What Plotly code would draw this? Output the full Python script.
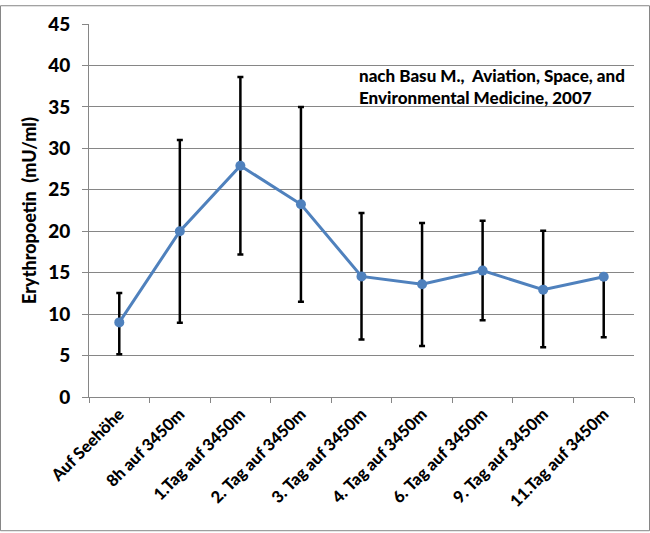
import plotly.graph_objects as go

categories = ["Auf Seehöhe", "8h auf 3450m", "1.Tag auf 3450m", "2. Tag auf 3450m",
              "3. Tag auf 3450m", "4. Tag auf 3450m", "6. Tag auf 3450m",
              "9. Tag auf 3450m", "11.Tag auf 3450m"]
values = [9.0, 20.0, 27.9, 23.25, 14.55, 13.6, 15.25, 12.95, 14.5]
err_upper = [12.55, 31.0, 38.6, 35.0, 22.2, 21.0, 21.25, 20.05, 14.5]
err_lower = [5.15, 8.95, 17.2, 11.5, 6.95, 6.15, 9.25, 6.0, 7.2]

plus = [u - v for u, v in zip(err_upper, values)]
minus = [v - l for v, l in zip(values, err_lower)]

W, H = 650, 533
ml, mr, mt, mb = 89, 16, 19, 136
pw, ph = W - ml - mr, H - mt - mb

FONT = "Lato"
GRID = "#868686"

fig = go.Figure()
fig.add_trace(go.Scatter(
    x=categories, y=values, mode="lines+markers",
    line=dict(color="#4F81BD", width=3),
    marker=dict(color="#4F81BD", size=10, symbol="circle"),
    error_y=dict(type="data", symmetric=False, array=plus, arrayminus=minus,
                 color="black", thickness=2.5, width=3),
    showlegend=False,
))

fig.update_layout(
    width=W, height=H,
    margin=dict(l=ml, r=mr, t=mt, b=mb),
    paper_bgcolor="white", plot_bgcolor="white",
    font=dict(family=FONT, color="black"),
    xaxis=dict(
        type="category", showgrid=False, showline=True, linecolor=GRID, linewidth=1,
        ticks="outside", tickson="boundaries", ticklen=5, tickcolor=GRID,
        tickangle=-45, tickfont=dict(family=FONT, size=16.5, color="black", weight=900),
        range=[-0.5, len(categories) - 0.5],
    ),
    yaxis=dict(
        range=[0, 45], dtick=5, showgrid=True, gridcolor=GRID, gridwidth=1,
        showline=True, linecolor=GRID, linewidth=1, zeroline=False,
        ticks="outside", ticklen=6, tickcolor=GRID,
        tickfont=dict(family=FONT, size=19, color="black", weight=900),
        ticklabelstandoff=8,
        title=dict(text="Erythropoetin  (mU/ml)", standoff=6,
                   font=dict(family=FONT, size=18, color="black", weight=900)),
    ),
    annotations=[dict(
        text="nach Basu M.,  Aviation, Space, and<br>Environmental Medicine, 2007",
        xref="paper", yref="paper",
        x=(357 - ml) / pw, y=(H - mb - 59) / ph,
        xanchor="left", yanchor="top", align="left", showarrow=False,
        font=dict(family=FONT, size=17, color="black", weight=900),
    )],
    shapes=[dict(
        type="rect", xref="paper", yref="paper",
        x0=(0.5 - ml) / pw, x1=(W - 0.5 - ml) / pw,
        y0=-(mb - 0.5) / ph, y1=(ph + mt - 0.5) / ph,
        line=dict(color=GRID, width=1), fillcolor="rgba(0,0,0,0)", layer="below",
    )],
)

fig.write_html("out.html")
